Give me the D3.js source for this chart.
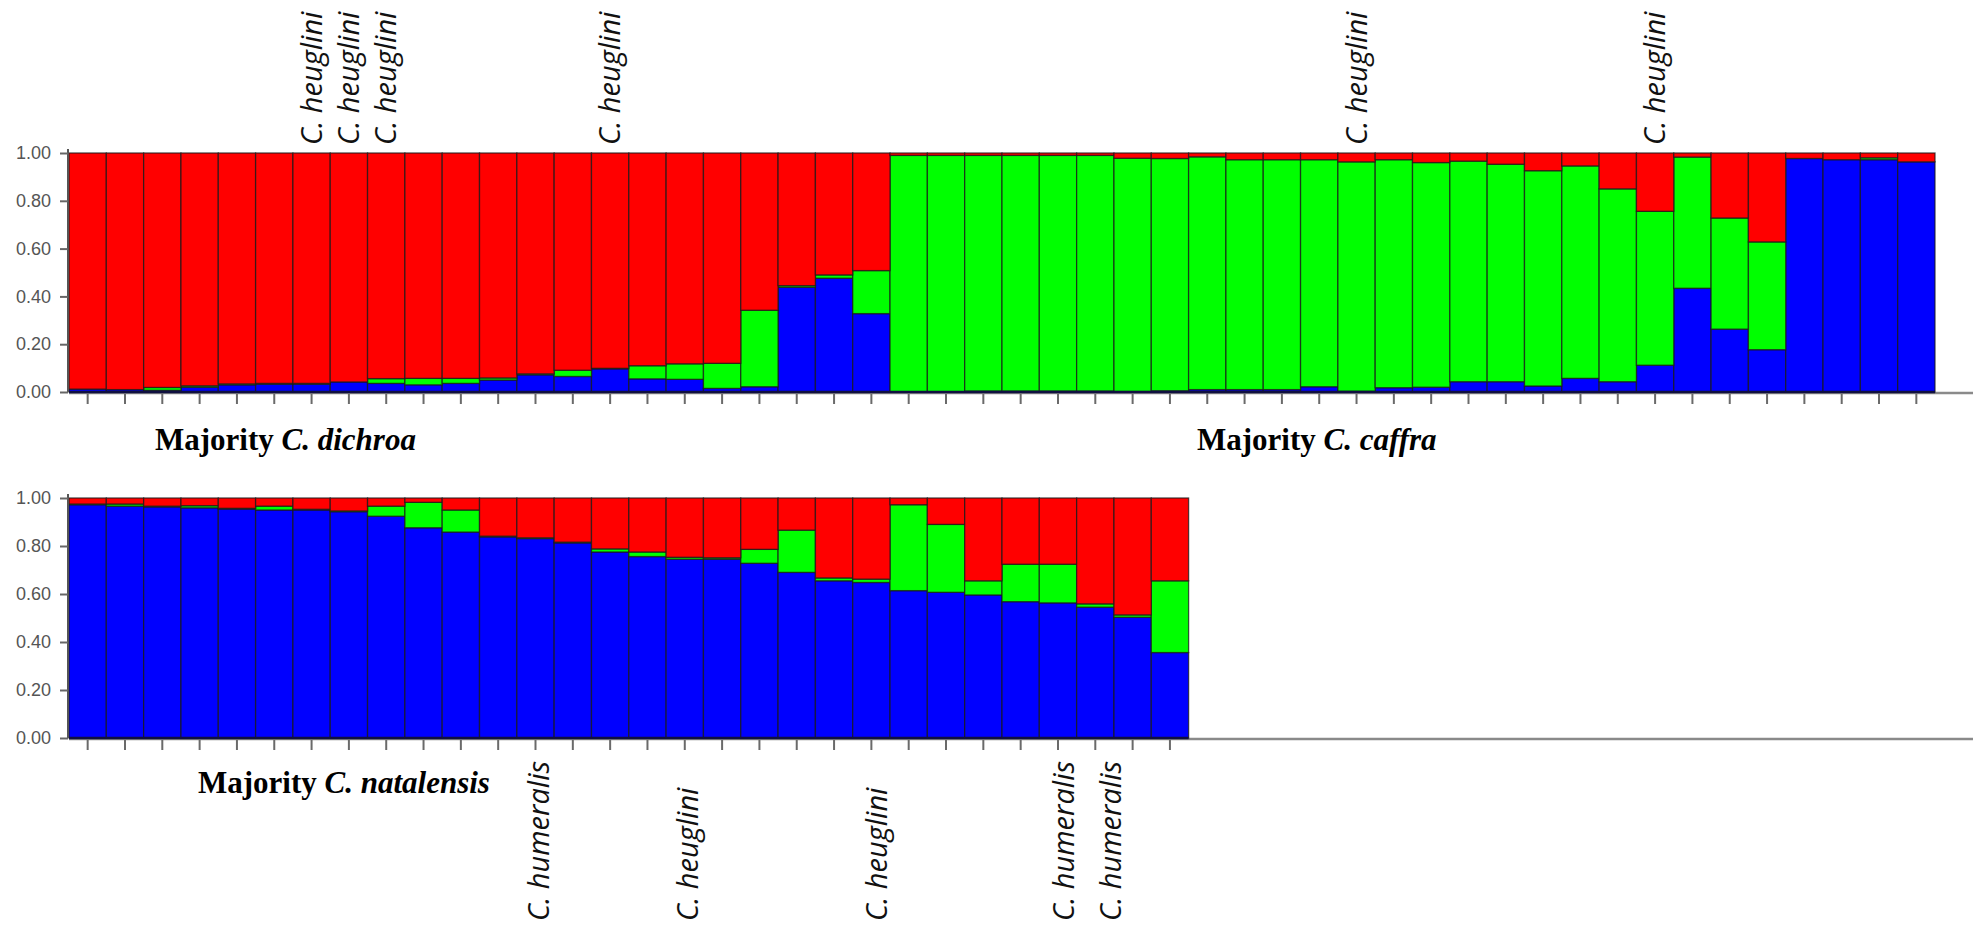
<!DOCTYPE html>
<html>
<head>
<meta charset="utf-8">
<script src="https://cdn.jsdelivr.net/npm/d3@7"></script>
<style>
  html, body { margin: 0; padding: 0; background: #fff; }
  svg { display: block; }
  .tick text { font-family: "Liberation Sans", Arial, sans-serif; font-size: 18px; fill: #555; }
  .group-title { font-family: "Liberation Serif", "Times New Roman", serif; font-size: 31px; font-weight: bold; fill: #000; }
  .taxon { font-family: "Open Sans", "Noto Sans", sans-serif; font-style: italic; font-size: 29px; fill: #111; }
</style>
</head>
<body>
<script>
// cluster memberships, top panel (50 individuals)
var topBlue = [0.012, 0.010, 0.007, 0.020, 0.030, 0.033, 0.033, 0.042, 0.036, 0.030,
               0.036, 0.050, 0.072, 0.065, 0.097, 0.055, 0.053, 0.015, 0.022, 0.438,
               0.476, 0.328, 0.000, 0.000, 0.004, 0.004, 0.004, 0.004, 0.002, 0.005,
               0.010, 0.010, 0.010, 0.022, 0.003, 0.018, 0.020, 0.043, 0.043, 0.025,
               0.057, 0.043, 0.112, 0.434, 0.263, 0.177, 0.977, 0.972, 0.972, 0.963];
var topGreen = [0.000, 0.000, 0.012, 0.006, 0.004, 0.003, 0.003, 0.000, 0.020, 0.027,
                0.021, 0.009, 0.004, 0.026, 0.002, 0.055, 0.065, 0.105, 0.320, 0.007,
                0.014, 0.180, 0.990, 0.990, 0.986, 0.986, 0.986, 0.986, 0.976, 0.972,
                0.974, 0.962, 0.962, 0.950, 0.960, 0.954, 0.940, 0.923, 0.910, 0.901,
                0.889, 0.807, 0.644, 0.549, 0.465, 0.451, 0.000, 0.000, 0.008, 0.000];
var topRed = [0.988, 0.990, 0.981, 0.974, 0.966, 0.964, 0.964, 0.958, 0.944, 0.943,
              0.943, 0.941, 0.924, 0.909, 0.901, 0.890, 0.882, 0.880, 0.658, 0.555,
              0.510, 0.492, 0.010, 0.010, 0.010, 0.010, 0.010, 0.010, 0.022, 0.023,
              0.016, 0.028, 0.028, 0.028, 0.037, 0.028, 0.040, 0.034, 0.047, 0.074,
              0.054, 0.150, 0.244, 0.017, 0.272, 0.372, 0.023, 0.028, 0.020, 0.037];

// cluster memberships, bottom panel (30 individuals)
var botBlue = [0.972, 0.966, 0.963, 0.959, 0.954, 0.950, 0.950, 0.943, 0.924, 0.876,
               0.858, 0.838, 0.831, 0.813, 0.775, 0.756, 0.745, 0.745, 0.728, 0.690,
               0.655, 0.648, 0.614, 0.607, 0.596, 0.568, 0.563, 0.545, 0.503, 0.356];
var botGreen = [0.003, 0.009, 0.003, 0.009, 0.003, 0.016, 0.003, 0.003, 0.042, 0.106,
                0.092, 0.003, 0.003, 0.003, 0.013, 0.019, 0.008, 0.006, 0.058, 0.176,
                0.012, 0.014, 0.358, 0.283, 0.059, 0.156, 0.161, 0.014, 0.010, 0.299];
var botRed = [0.025, 0.025, 0.034, 0.032, 0.043, 0.034, 0.047, 0.054, 0.034, 0.018,
              0.050, 0.159, 0.166, 0.184, 0.212, 0.225, 0.247, 0.249, 0.214, 0.134,
              0.333, 0.338, 0.028, 0.110, 0.345, 0.276, 0.276, 0.441, 0.487, 0.345];

var yTicks = [0, 0.2, 0.4, 0.6, 0.8, 1.0];
var clusterColors = ['#0000ff', '#00ff00', '#ff0000']; // blue, green, red (bottom to top)

var topTaxa = [[6, 'C. heuglini'], [7, 'C. heuglini'], [8, 'C. heuglini'],
               [14, 'C. heuglini'], [34, 'C. heuglini'], [42, 'C. heuglini']];
var botTaxa = [[12, 'C. humeralis', 3], [16, 'C. heuglini', 3], [21, 'C. heuglini', 5],
               [26, 'C. humeralis', 6], [27, 'C. humeralis', 16]];

var W = 1973, H = 927;
var left = 69, right = 1935;
var step = (right - left) / topBlue.length;

var svg = d3.select('body').append('svg').attr('width', W).attr('height', H);

function panel(blue, green, red, y0, y1) {
  var x = d3.scaleBand().domain(d3.range(blue.length))
    .range([left, left + step * blue.length]).padding(0);
  var y = d3.scaleLinear().domain([0, 1]).range([y1, y0]);
  var g = svg.append('g');

  var rows = blue.map(function(b, i) { return { i: i, blue: b, green: green[i], red: red[i] }; });
  var series = d3.stack().keys(['blue', 'green', 'red'])(rows);

  // baseline running to the page edge
  g.append('line').attr('x1', left).attr('x2', W).attr('y1', y(0) + 1).attr('y2', y(0) + 1)
    .attr('stroke', '#8a8a8a').attr('stroke-width', 2.5);

  g.selectAll('g.layer').data(series).enter().append('g').attr('class', 'layer')
    .attr('fill', function(d, k) { return clusterColors[k]; })
    .selectAll('rect').data(function(d) { return d.filter(function(s) { return s[1] - s[0] > 0; }); })
    .enter().append('rect')
    .attr('x', function(d) { return x(d.data.i); })
    .attr('width', x.bandwidth())
    .attr('y', function(d) { return y(d[1]); })
    .attr('height', function(d) { return y(d[0]) - y(d[1]); })
    .attr('stroke', '#1a1a1a').attr('stroke-opacity', 0.75).attr('stroke-width', 1.3);

  // dark bottom edge of the bars
  g.append('line').attr('x1', left).attr('x2', x.range()[1]).attr('y1', y(0)).attr('y2', y(0))
    .attr('stroke', '#101040').attr('stroke-width', 2.5);

  var ya = g.append('g').attr('transform', 'translate(' + (left - 1) + ',0)')
    .call(d3.axisLeft(y).tickValues(yTicks).tickFormat(d3.format('.2f')).tickSize(8).tickPadding(9));
  ya.select('.domain').attr('stroke', '#555').attr('stroke-width', 2)
    .attr('d', 'M0,' + (y(1) - 4) + 'V' + y(0));
  ya.selectAll('.tick line').attr('stroke', '#666').attr('stroke-width', 2);

  var xa = g.append('g').attr('transform', 'translate(0,' + (y(0) + 2) + ')')
    .call(d3.axisBottom(x).tickSize(10).tickFormat(''));
  xa.select('.domain').remove();
  xa.selectAll('.tick line').attr('stroke', '#6a6a6a').attr('stroke-width', 2);

  return x;
}

var xTop = panel(topBlue, topGreen, topRed, 153, 392);
var xBot = panel(botBlue, botGreen, botRed, 498, 738);

function taxonLabels(list, x, yStart) {
  svg.selectAll(null).data(list).enter().append('text')
    .attr('class', 'taxon')
    .attr('transform', function(d) {
      var cx = x(d[0]) + x.bandwidth() / 2 + (d[2] || 0);
      return 'translate(' + cx + ',' + yStart + ') rotate(-90)';
    })
    .attr('dy', '0.35em')
    .text(function(d) { return d[1]; });
}
taxonLabels(topTaxa, xTop, 145);
taxonLabels(botTaxa, xBot, 921);

function groupTitle(x, y, name) {
  var t = svg.append('text').attr('class', 'group-title').attr('x', x).attr('y', y);
  t.append('tspan').text('Majority ');
  t.append('tspan').attr('font-style', 'italic').text(name);
}
groupTitle(155, 450, 'C. dichroa');
groupTitle(1197, 450, 'C. caffra');
groupTitle(198, 793, 'C. natalensis');
</script>
</body>
</html>
